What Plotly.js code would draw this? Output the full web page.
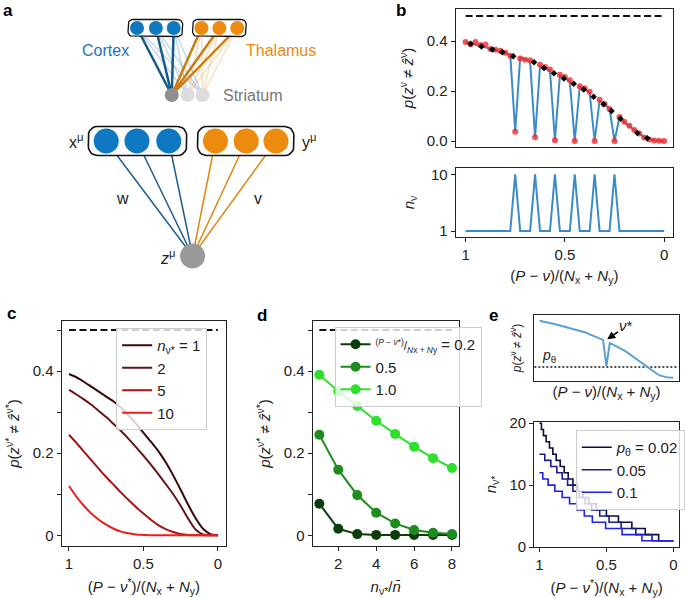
<!DOCTYPE html>
<html>
<head>
<meta charset="utf-8">
<script src="https://cdn.plot.ly/plotly-3.0.1.min.js"></script>
<style>html,body{margin:0;padding:0;background:#fff}</style>
</head>
<body>
<div id="plot" style="width:685px;height:598px"></div>
<script>
// ---------- data ----------
// panel b: one pass over the patterns, six of them repeated 10x
const bX = [1.000,0.975,0.950,0.925,0.900,0.875,0.850,0.825,0.800,0.775,0.750,0.725,0.700,0.675,0.650,0.625,0.600,0.575,0.550,0.525,0.500,0.475,0.450,0.425,0.400,0.375,0.350,0.325,0.300,0.275,0.250,0.225,0.200,0.175,0.150,0.125,0.100,0.075,0.050,0.025,0.000];
const bCurve = [0.395,0.391,0.386,0.380,0.375,0.369,0.363,0.357,0.351,0.345,0.037,0.334,0.327,0.318,0.015,0.300,0.290,0.281,0.003,0.262,0.250,0.239,0.000,0.218,0.207,0.193,0.000,0.162,0.146,0.130,0.000,0.094,0.074,0.058,0.043,0.029,0.016,0.008,0.003,0.001,0.000];
const bSim = [0.396,0.387,0.396,0.384,0.386,0.368,0.365,0.361,0.353,0.341,0.037,0.330,0.325,0.323,0.015,0.305,0.296,0.286,0.003,0.265,0.256,0.243,0.000,0.219,0.211,0.197,0.000,0.165,0.148,0.128,0.000,0.096,0.077,0.061,0.044,0.030,0.014,0.006,0.002,0.001,0.000];
const bTheoryX = [0.975,0.920,0.865,0.815,0.760,0.655,0.605,0.555,0.505,0.455,0.405,0.355,0.305,0.265,0.220,0.135,0.085];
const bTheoryY = [0.389,0.378,0.366,0.355,0.339,0.315,0.292,0.271,0.250,0.229,0.206,0.177,0.147,0.120,0.089,0.032,0.011];
const bRepeats = [1,1,1,1,1,1,1,1,1,1,10,1,1,1,10,1,1,1,10,1,1,1,10,1,1,1,10,1,1,1,10,1,1,1,1,1,1,1,1,1,1];
const chance = 0.5;

// panel c: error of pattern nu* for several repeat counts
const cX = [1.00,0.95,0.90,0.85,0.80,0.75,0.70,0.65,0.60,0.55,0.50,0.45,0.40,0.35,0.30,0.25,0.20,0.15,0.10,0.05,0.00];
const cN1 = [0.393,0.385,0.374,0.362,0.350,0.338,0.326,0.311,0.292,0.272,0.250,0.228,0.205,0.178,0.146,0.111,0.075,0.042,0.016,0.003,0.000];
const cN2 = [0.354,0.343,0.331,0.318,0.303,0.288,0.271,0.254,0.235,0.215,0.194,0.172,0.149,0.125,0.100,0.072,0.041,0.014,0.002,0.000,0.000];
const cN5 = [0.245,0.225,0.204,0.183,0.162,0.142,0.123,0.104,0.086,0.069,0.053,0.038,0.025,0.015,0.008,0.003,0.001,0.000,0.000,0.000,0.000];
const cN10 = [0.120,0.094,0.072,0.053,0.038,0.026,0.016,0.009,0.005,0.002,0.001,0.000,0.000,0.000,0.000,0.000,0.000,0.000,0.000,0.000,0.000];
const cLabels = ['1', '2', '5', '10'];

// panel d: error vs relative repeat count
const dX = [1,2,3,4,5,6,7,8];
const d02 = [0.077,0.016,0.003,0.001,0.001,0.001,0.001,0.001];
const d05 = [0.245,0.160,0.098,0.055,0.029,0.013,0.006,0.003];
const d10 = [0.391,0.351,0.315,0.279,0.247,0.216,0.188,0.164];

// panel e: schematic curve and repeats needed to reach p_theta
const eCurve = [0.395,0.391,0.386,0.380,0.375,0.369,0.363,0.357,0.351,0.345,0.340,0.334,0.327,0.318,0.312,0.300,0.290,0.281,0.272,0.262,0.080,0.239,0.229,0.218,0.207,0.193,0.179,0.162,0.146,0.130,0.112,0.094,0.074,0.058,0.043,0.029,0.016,0.008,0.003,0.001,0.000];
const pTheta = 0.074;
const e002X = [1.0,0.985,0.97,0.95,0.925,0.90,0.875,0.845,0.815,0.785,0.75,0.715,0.675,0.63,0.575,0.5,0.41,0.31,0.21,0.11,0.0];
const e002Y = [20,19,18,17,16,15,14,13,12,11,10,9,8,7,6,5,4,3,2,1,1];
const e005X = [1.0,0.96,0.915,0.87,0.83,0.79,0.75,0.705,0.66,0.61,0.55,0.48,0.39,0.28,0.16,0.0];
const e005Y = [15,14,13,12,11,10,9,8,7,6,5,4,3,2,1,1];
const e01X = [1.0,0.975,0.935,0.885,0.83,0.775,0.72,0.665,0.605,0.506,0.383,0.235,0.0];
const e01Y = [12,11,10,9,8,7,6,5,4,3,2,1,1];

// panel a: network sketch, node positions in px
const cortexTopX = [138,157,175];
const thalTopX = [203,221,239];
const topRowY = 28;
const striatumX = [173,189,204];
const striatumY = 95;
const cortexX = [107,138,170];
const thalX = [217,248,278];
const inputY = 141;
const outX = 194, outY = 256;

// ---------- styling ----------
const F = 'Liberation Sans, Arial, sans-serif';
const INK = '#222';
const BLUE = '#0e79c0', ORANGE = '#ec8b0d';
const W = 685, H = 598;
const fx = p => p / W;
const fy = p => 1 - p / H;

function axis(d0, d1, range, extra) {
  return Object.assign({
    domain: [d0, d1], range: range, autorange: false,
    showline: true, mirror: true, linecolor: INK, linewidth: 1,
    ticks: 'outside', ticklen: 4, tickwidth: 1, tickcolor: INK,
    showgrid: false, zeroline: false, fixedrange: true,
    tickfont: {family: F, size: 15, color: INK}
  }, extra);
}
function ttl(text, size, standoff) {
  return {text: text, font: {family: F, size: size || 15, color: INK}, standoff: standoff};
}
function links(fromXs, fromY, toX, toY) {
  const x = [], y = [];
  fromXs.forEach(v => { x.push(v, toX, null); y.push(fromY, toY, null); });
  return {x, y};
}
function roundBox(xs, cy, padX, padY, r) {
  const x0 = Math.min(...xs) - padX, x1 = Math.max(...xs) + padX;
  const y0 = cy - padY, y1 = cy + padY;
  const corners = [[x1 - r, y0 + r, -90], [x1 - r, y1 - r, 0], [x0 + r, y1 - r, 90], [x0 + r, y0 + r, 180]];
  const x = [], y = [];
  corners.forEach(([cx, cyy, a0]) => {
    for (let k = 0; k <= 6; k++) {
      const a = (a0 + k * 15) * Math.PI / 180;
      x.push(cx + r * Math.cos(a)); y.push(cyy + r * Math.sin(a));
    }
  });
  x.push(x[0]); y.push(y[0]);
  return {x, y};
}

const traces = [];
const sk = {xaxis: 'x7', yaxis: 'y7', hoverinfo: 'skip', showlegend: false};

// panel a sketch
let l = links(cortexTopX, topRowY, striatumX[1], striatumY);
let l2 = links(cortexTopX, topRowY, striatumX[2], striatumY);
traces.push(Object.assign({x: l.x.concat(l2.x), y: l.y.concat(l2.y), mode: 'lines', line: {color: 'rgba(60,130,190,0.3)', width: 1.5}}, sk));
l = links(thalTopX, topRowY, striatumX[1], striatumY);
l2 = links(thalTopX, topRowY, striatumX[2], striatumY);
traces.push(Object.assign({x: l.x.concat(l2.x), y: l.y.concat(l2.y), mode: 'lines', line: {color: 'rgba(236,150,50,0.3)', width: 1.5}}, sk));
l = links(cortexTopX, topRowY, striatumX[0], striatumY);
traces.push(Object.assign({x: l.x, y: l.y, mode: 'lines', line: {color: '#155a8c', width: 2.5}}, sk));
l = links(thalTopX, topRowY, striatumX[0], striatumY);
traces.push(Object.assign({x: l.x, y: l.y, mode: 'lines', line: {color: '#cf7a0c', width: 2.5}}, sk));
l = links(cortexX, inputY, outX, outY);
traces.push(Object.assign({x: l.x, y: l.y, mode: 'lines', line: {color: '#1c5d8f', width: 1.5}}, sk));
l = links(thalX, inputY, outX, outY);
traces.push(Object.assign({x: l.x, y: l.y, mode: 'lines', line: {color: '#de8512', width: 1.5}}, sk));
[[cortexTopX, topRowY, 9, 8.5, 5, 1.3], [thalTopX, topRowY, 9, 8.5, 5, 1.3],
 [cortexX, inputY, 18, 14.5, 9, 1.6], [thalX, inputY, 18, 14.5, 9, 1.6]].forEach(([xs, cy, px, py, r, w]) => {
  const b = roundBox(xs, cy, px, py, r);
  traces.push(Object.assign({x: b.x, y: b.y, mode: 'lines', fill: 'toself', fillcolor: '#fff', line: {color: '#111', width: w}}, sk));
});
[[cortexTopX, topRowY, BLUE, 14], [thalTopX, topRowY, ORANGE, 14],
 [cortexX, inputY, BLUE, 25], [thalX, inputY, ORANGE, 25]].forEach(([xs, cy, c, s]) => {
  traces.push(Object.assign({x: xs, y: xs.map(() => cy), mode: 'markers', marker: {color: c, size: s, line: {width: 0}}}, sk));
});
traces.push(Object.assign({x: striatumX, y: striatumX.map(() => striatumY), mode: 'markers',
  marker: {color: ['#8e8e8e', '#dcdcdc', '#dcdcdc'], size: 14, line: {width: 0}}}, sk));
traces.push(Object.assign({x: [outX], y: [outY], mode: 'markers', marker: {color: '#999', size: 25, line: {width: 0}}}, sk));

// panel b
const nolg = {showlegend: false, hoverinfo: 'skip'};
traces.push(Object.assign({x: [1, 0], y: [chance, chance], mode: 'lines', line: {color: '#111', width: 2, dash: '7px,3.5px'}, xaxis: 'x', yaxis: 'y'}, nolg));
traces.push(Object.assign({x: bX, y: bCurve, mode: 'lines', line: {color: '#3b8bc9', width: 2}, xaxis: 'x', yaxis: 'y'}, nolg));
traces.push(Object.assign({x: bX, y: bSim, mode: 'markers', marker: {color: 'rgba(245,40,40,0.8)', size: 6}, xaxis: 'x', yaxis: 'y'}, nolg));
traces.push(Object.assign({x: bTheoryX, y: bTheoryY, mode: 'markers', marker: {color: '#000', size: 5, symbol: 'diamond'}, xaxis: 'x', yaxis: 'y'}, nolg));
traces.push(Object.assign({x: bX, y: bRepeats, mode: 'lines', line: {color: '#3b8bc9', width: 2}, xaxis: 'x2', yaxis: 'y2'}, nolg));

// panel c
const cColors = ['#380909', '#6b1212', '#a51515', '#ee1c1c'];
traces.push(Object.assign({x: [1, 0], y: [chance, chance], mode: 'lines', line: {color: '#111', width: 2, dash: '7px,3.5px'}, xaxis: 'x3', yaxis: 'y3'}, nolg));
[cN1, cN2, cN5, cN10].forEach((ys, i) => {
  traces.push({x: cX, y: ys, mode: 'lines', line: {color: cColors[i], width: 2, shape: 'spline', smoothing: 0.6},
    name: i === 0 ? '<i>n</i><sub>ν*</sub> = ' + cLabels[i] : cLabels[i],
    xaxis: 'x3', yaxis: 'y3', legend: 'legend', hoverinfo: 'skip'});
});

// panel d
const dColors = ['#0b3d0b', '#1e8c1e', '#2ee02e'];
const dNames = ['<span style="font-size:12px"><sup>(<i>P</i> − <i>ν</i>*)</sup>/<sub><i>N</i>x + <i>N</i>y</sub></span> = 0.2', '0.5', '1.0'];
traces.push(Object.assign({x: [1, 8], y: [chance, chance], mode: 'lines', line: {color: '#111', width: 2, dash: '7px,3.5px'}, xaxis: 'x4', yaxis: 'y4'}, nolg));
[d02, d05, d10].forEach((ys, i) => {
  traces.push({x: dX, y: ys, mode: 'lines+markers', line: {color: dColors[i], width: 2},
    marker: {color: dColors[i], size: 10}, name: dNames[i],
    xaxis: 'x4', yaxis: 'y4', legend: 'legend2', hoverinfo: 'skip'});
});

// panel e
traces.push(Object.assign({x: [1.04, -0.04], y: [pTheta, pTheta], mode: 'lines', line: {color: '#111', width: 1.5, dash: '2px,2px'}, xaxis: 'x5', yaxis: 'y5'}, nolg));
traces.push(Object.assign({x: bX, y: eCurve, mode: 'lines', line: {color: '#5aa0d8', width: 2}, xaxis: 'x5', yaxis: 'y5'}, nolg));
const eColors = ['#0d0d3d', '#1c1c8c', '#2020e6'];
const eNames = ['<i>p</i><sub>θ</sub> = 0.02', '0.05', '0.1'];
[[e002X, e002Y], [e005X, e005Y], [e01X, e01Y]].forEach(([xs, ys], i) => {
  traces.push({x: xs, y: ys, mode: 'lines', line: {color: eColors[i], width: 1.6, shape: 'hv'},
    name: eNames[i], xaxis: 'x6', yaxis: 'y6', legend: 'legend3', hoverinfo: 'skip'});
});

// ---------- layout ----------
const yTitleB = '<i>p</i>(<i>z</i><sup>ν</sup> ≠ <i>ẑ</i><sup>ν</sup>)';
const yTitleStar = '<i>p</i>(<i>z</i><sup>ν*</sup> ≠ <i>ẑ</i><sup>ν*</sup>)';
const xTitleB = '(<i>P</i> − <i>ν</i>)/(<i>N</i><sub>x</sub> + <i>N</i><sub>y</sub>)';
const xTitleStar = '(<i>P</i> − <i>ν</i><sup>*</sup>)/(<i>N</i><sub>x</sub> + <i>N</i><sub>y</sub>)';
const yTicks = {tickvals: [0, 0.2, 0.4], ticktext: ['0', '0.2', '0.4'],
  minor: {tickmode: 'linear', tick0: 0, dtick: 0.1, ticks: 'outside', ticklen: 4, tickwidth: 1, tickcolor: INK, showgrid: false}};
const xTicks01 = {tickvals: [1, 0.5, 0], ticktext: ['1', '0.5', '0']};
const legendStyle = {bgcolor: 'rgba(255,255,255,0.8)', bordercolor: '#cccccc', borderwidth: 1,
  font: {family: F, size: 15, color: INK}, xanchor: 'left', yanchor: 'top', tracegroupgap: 0};

function label(text, x, y, opts) {
  return Object.assign({text: text, x: x, y: y, xref: 'x7', yref: 'y7', showarrow: false,
    font: {family: F, size: 16, color: INK}}, opts);
}
function panelLetter(t, px, py) {
  return {text: '<b>' + t + '</b>', x: fx(px), y: fy(py), xref: 'paper', yref: 'paper', showarrow: false,
    xanchor: 'left', yanchor: 'middle', font: {family: F, size: 17, color: '#000'}};
}

const layout = {
  width: W, height: H, margin: {l: 0, r: 0, t: 0, b: 0},
  paper_bgcolor: '#fff', plot_bgcolor: 'rgba(0,0,0,0)',
  font: {family: F, color: INK},
  showlegend: true,
  // b top
  xaxis: axis(fx(459), fx(678), [1.05, -0.045], {anchor: 'y', ticks: '', showticklabels: false}),
  yaxis: axis(fy(147), fy(9), [-0.024, 0.528], {anchor: 'x', tickvals: [0, 0.2, 0.4], ticktext: ['0.0', '0.2', '0.4'], title: ttl(yTitleB, 15, 9)}),
  // b bottom
  xaxis2: axis(fx(459), fx(678), [1.05, -0.045], Object.assign({anchor: 'y2', title: ttl(xTitleB, 15, 8)}, xTicks01)),
  yaxis2: axis(fy(237), fy(168), [0.05, 11.0], {anchor: 'x2', tickvals: [1, 10], title: ttl('<i>n</i><sub>ν</sub>', 15, 12)}),
  // c
  xaxis3: axis(fx(62), fx(228), [1.05, -0.057], Object.assign({anchor: 'y3', title: ttl(xTitleStar, 15, 10)}, xTicks01)),
  yaxis3: axis(fy(546), fy(321), [-0.026, 0.522], Object.assign({anchor: 'x3', title: ttl(yTitleStar, 15, 9)}, yTicks)),
  // d
  xaxis4: axis(fx(315), fx(462), [0.65, 8.35], {anchor: 'y4', tickvals: [2, 4, 6, 8], title: ttl('<i>n</i><sub>ν*</sub>/<i>n̄</i>', 15, 10)}),
  yaxis4: axis(fy(546), fy(321), [-0.026, 0.522], Object.assign({anchor: 'x4', title: ttl(yTitleStar, 15, 9)}, yTicks)),
  // e top
  xaxis5: axis(fx(538), fx(684), [1.042, -0.044], {anchor: 'y5', ticks: '', showticklabels: false, title: ttl(xTitleB, 15, 5)}),
  yaxis5: axis(fy(381), fy(315), [-0.023, 0.435], {anchor: 'x5', ticks: '', showticklabels: false, title: ttl(yTitleB, 12, 8)}),
  // e bottom
  xaxis6: axis(fx(538), fx(684), [1.04, -0.042], Object.assign({anchor: 'y6', title: ttl(xTitleStar, 15, 10)}, xTicks01)),
  yaxis6: axis(fy(547), fy(422), [0, 20.2], {anchor: 'x6', tickvals: [0, 10, 20], title: ttl('<i>n</i><sub>ν*</sub>', 15, 9)}),
  // sketch canvas, 1 unit = 1 px
  xaxis7: {domain: [0, fx(380)], range: [0, 380], visible: false, fixedrange: true, anchor: 'y7'},
  yaxis7: {domain: [fy(290), 1], range: [290, 0], visible: false, fixedrange: true, anchor: 'x7'},
  legend: Object.assign({x: fx(117), y: fy(328)}, legendStyle),
  legend2: Object.assign({x: fx(337), y: fy(327)}, legendStyle),
  legend3: Object.assign({x: fx(580), y: fy(430)}, legendStyle),
  annotations: [
    panelLetter('a', 1, 11), panelLetter('b', 397, 11), panelLetter('c', 5, 313),
    panelLetter('d', 257, 315), panelLetter('e', 491, 315),
    label('Cortex', 106, 50, {font: {family: F, size: 16, color: '#1f72b8'}}),
    label('Thalamus', 246, 50, {xanchor: 'left', font: {family: F, size: 16, color: '#ea8a14'}}),
    label('Striatum', 223, 95, {xanchor: 'left', font: {family: F, size: 16, color: '#777'}}),
    label('x<sup>μ</sup>', 86, 141, {xanchor: 'right'}),
    label('y<sup>μ</sup>', 302, 141, {xanchor: 'left'}),
    label('<i>z</i><sup>μ</sup>', 178, 257, {xanchor: 'right'}),
    label('w', 123, 198),
    label('v', 260, 198),
    {text: '<i>p</i><sub>θ</sub>', x: 1.0, y: pTheta, xref: 'x5', yref: 'y5', xanchor: 'left', yanchor: 'bottom',
      showarrow: false, font: {family: F, size: 14, color: INK}},
    {text: '<i>ν</i>*', x: 0.5, y: 0.262, xref: 'x5', yref: 'y5', ax: 20, ay: -14, showarrow: true,
      arrowhead: 2, arrowsize: 1, arrowwidth: 1.6, arrowcolor: '#000', standoff: 1,
      font: {family: F, size: 15, color: INK}}
  ]
};

Plotly.newPlot('plot', traces, layout, {staticPlot: true, displayModeBar: false});
</script>
</body>
</html>
